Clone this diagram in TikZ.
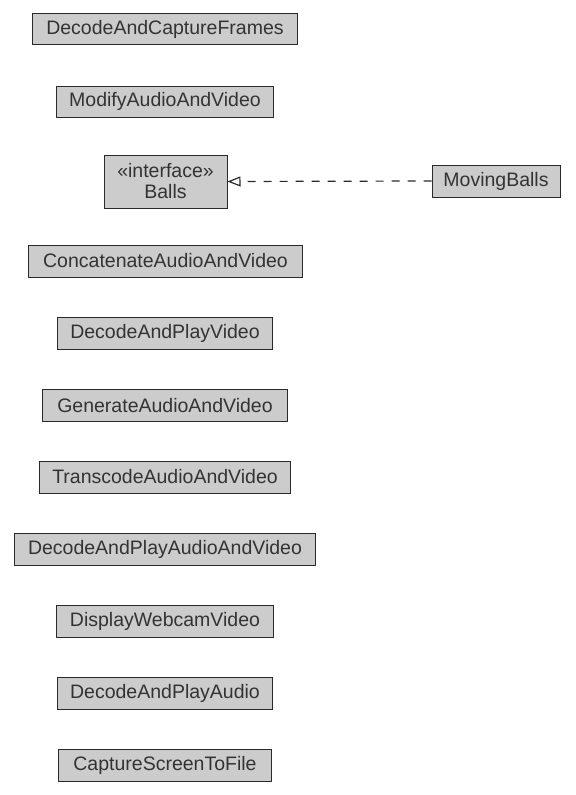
\documentclass[tikz,border=0pt]{standalone}
\usepackage{fontspec}
\setmainfont{Liberation Sans}
\usetikzlibrary{arrows.meta}
\definecolor{boxfill}{HTML}{CCCCCC}
\definecolor{boxline}{HTML}{2A2A2A}
\definecolor{txt}{HTML}{333333}
\begin{document}
\begin{tikzpicture}[x=1bp,y=-1bp,
  cls/.style={draw=boxline, fill=boxfill, line width=1bp, text=txt,
    font=\fontsize{19.5bp}{21bp}\selectfont, inner sep=0pt, minimum height=32bp,
    align=center, anchor=center},
  realize/.style={draw=boxline, line width=1.2bp, dash pattern=on 8bp off 8bp,
    -{Triangle[open,length=13bp,width=10bp]}}
]
\useasboundingbox (0,0) rectangle (576,795);
\node[cls, minimum width=264bp, minimum height=31bp] (dacf) at (165,29.5) {DecodeAndCaptureFrames};
\node[cls, minimum width=216bp, minimum height=31bp] (maav) at (165,101.5) {ModifyAudioAndVideo};
\node[cls, minimum width=123bp, minimum height=53bp] (balls) at (165.5,181.5) {«interface»\\Balls};
\node[cls, minimum width=128bp] (mb) at (496,181) {MovingBalls};
\node[cls, minimum width=273bp] (cav) at (165.5,261) {ConcatenateAudioAndVideo};
\node[cls, minimum width=214bp] (dapv) at (165,333) {DecodeAndPlayVideo};
\node[cls, minimum width=244bp] (gav) at (165,405.5) {GenerateAudioAndVideo};
\node[cls, minimum width=250bp] (tav) at (165,477) {TranscodeAudioAndVideo};
\node[cls, minimum width=300bp] (dapav) at (165,549.5) {DecodeAndPlayAudioAndVideo};
\node[cls, minimum width=216bp] (dwv) at (165,621.5) {DisplayWebcamVideo};
\node[cls, minimum width=214bp] (dapa) at (165,693.5) {DecodeAndPlayAudio};
\node[cls, minimum width=212bp] (cstf) at (165,765.5) {CaptureScreenToFile};
\draw[realize] (mb.west) -- (balls.east);
\end{tikzpicture}
\end{document}
